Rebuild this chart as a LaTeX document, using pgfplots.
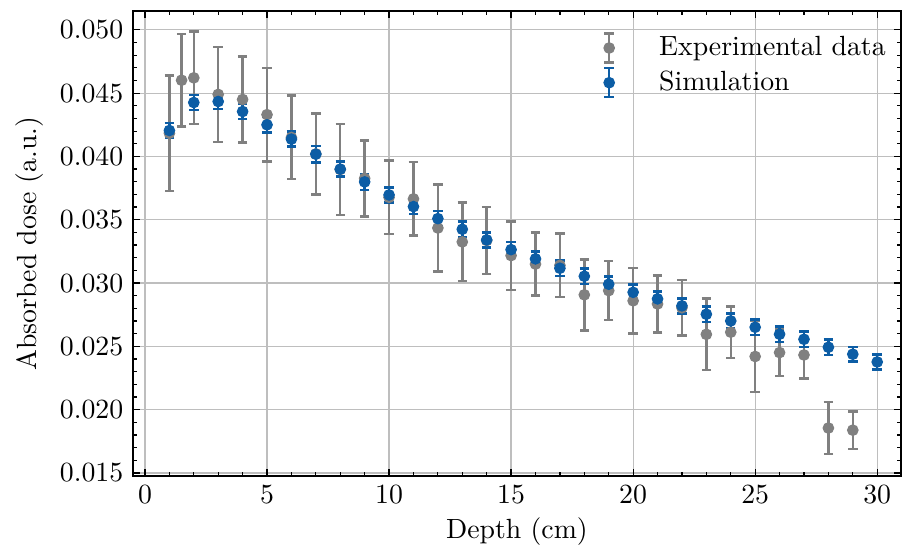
\documentclass[border=0pt]{standalone}
\usepackage{pgfplots}
\pgfplotsset{compat=1.18}
\usepackage{pgfplotstable}
\definecolor{simblue}{HTML}{0C5DA5}
\definecolor{expgray}{HTML}{808080}
\definecolor{gridgray}{HTML}{BEBEBE}

\pgfplotstableread{
x y e
1 0.04183 0.00455
1.5 0.04602 0.00366
2 0.04621 0.00366
3 0.04490 0.00375
4 0.04450 0.00340
5 0.04330 0.00370
6 0.04150 0.00330
7 0.04020 0.00320
8 0.03897 0.00360
9 0.03827 0.00300
10 0.03677 0.00290
11 0.03665 0.00290
12 0.03435 0.00344
13 0.03325 0.00310
14 0.03336 0.00265
15 0.03217 0.00270
16 0.03150 0.00250
17 0.03140 0.00250
18 0.02907 0.00280
19 0.02940 0.00233
20 0.02860 0.00260
21 0.02835 0.00224
22 0.02805 0.00220
23 0.02595 0.00282
24 0.02612 0.00202
25 0.02420 0.00280
26 0.02451 0.00184
27 0.02432 0.00187
28 0.01855 0.00206
29 0.01838 0.00147
}\expdata

\pgfplotstableread{
x y e
1 0.04205 0.00058
2 0.04426 0.00060
3 0.04434 0.00060
4 0.04355 0.00060
5 0.04250 0.00060
6 0.04137 0.00060
7 0.04018 0.00065
8 0.03900 0.00060
9 0.03799 0.00062
10 0.03696 0.00060
11 0.03604 0.00060
12 0.03509 0.00060
13 0.03425 0.00060
14 0.03341 0.00060
15 0.03264 0.00060
16 0.03191 0.00060
17 0.03117 0.00060
18 0.03054 0.00060
19 0.02991 0.00060
20 0.02927 0.00060
21 0.02875 0.00060
22 0.02820 0.00060
23 0.02754 0.00060
24 0.02701 0.00060
25 0.02651 0.00060
26 0.02596 0.00060
27 0.02556 0.00060
28 0.02493 0.00060
29 0.02438 0.00058
30 0.02377 0.00058
}\simdata

\begin{document}
\begin{tikzpicture}
\begin{axis}[
  scale only axis,
  width=276.5pt, height=167.4pt,
  xmin=-0.49, xmax=30.97,
  ymin=0.01476, ymax=0.05148,
  xtick={0,5,...,30},
  ytick={0.015,0.020,0.025,0.030,0.035,0.040,0.045,0.050},
  minor x tick num=4,
  minor y tick num=4,
  scaled y ticks=false,
  yticklabel style={/pgf/number format/.cd, fixed, fixed zerofill, precision=3},
  tick align=inside,
  xtick pos=both, ytick pos=both,
  major tick length=2.6pt,
  minor tick length=1.4pt,
  every tick/.style={black, line width=0.45pt},
  axis line style={line width=0.5pt},
  grid=major,
  major grid style={gridgray, line width=0.45pt},
  xlabel={Depth (cm)},
  ylabel={Absorbed dose (a.u.)},
  tick label style={font=\fontsize{10}{12}\selectfont},
  label style={font=\fontsize{10}{12}\selectfont},
  xlabel style={yshift=2pt},
  ylabel style={yshift=-1pt},
  legend style={draw=none, fill=none, at={(0.608,0.965)}, anchor=north west,
    font=\fontsize{10}{12}\selectfont, row sep=0pt, inner sep=1pt},
  legend cell align=left,
]
\addplot[only marks, mark=*, mark size=1.9pt, color=expgray,
  legend image code/.code={
    \draw[expgray, line width=0.9pt] (0pt,-5.2pt) -- (0pt,5.2pt);
    \draw[expgray, line width=0.9pt] (-1.7pt,-5.2pt) -- (1.7pt,-5.2pt);
    \draw[expgray, line width=0.9pt] (-1.7pt,5.2pt) -- (1.7pt,5.2pt);
    \fill[expgray] (0pt,0pt) circle (1.9pt);
    \path[draw=none, fill=none] (0pt,0pt) -- (16pt,0pt);
  },
  error bars/.cd, y dir=both, y explicit,
  error bar style={line width=0.9pt, expgray},
  error mark options={rotate=90, mark size=1.7pt, line width=0.9pt, expgray},
  ]
  table[x=x, y=y, y error=e] {\expdata};
\addlegendentry{Experimental data}
\addplot[only marks, mark=*, mark size=1.9pt, color=simblue,
  legend image code/.code={
    \draw[simblue, line width=0.9pt] (0pt,-5.2pt) -- (0pt,5.2pt);
    \draw[simblue, line width=0.9pt] (-1.7pt,-5.2pt) -- (1.7pt,-5.2pt);
    \draw[simblue, line width=0.9pt] (-1.7pt,5.2pt) -- (1.7pt,5.2pt);
    \fill[simblue] (0pt,0pt) circle (1.9pt);
    \path[draw=none, fill=none] (0pt,0pt) -- (16pt,0pt);
  },
  error bars/.cd, y dir=both, y explicit,
  error bar style={line width=0.9pt, simblue},
  error mark options={rotate=90, mark size=1.7pt, line width=0.9pt, simblue},
  ]
  table[x=x, y=y, y error=e] {\simdata};
\addlegendentry{Simulation}
\end{axis}
\pgfresetboundingbox
\path[use as bounding box] ([shift={(-47.9pt,-25.6pt)}]current axis.south west) rectangle ([shift={(0.4pt,4pt)}]current axis.north east);
\end{tikzpicture}
\end{document}
